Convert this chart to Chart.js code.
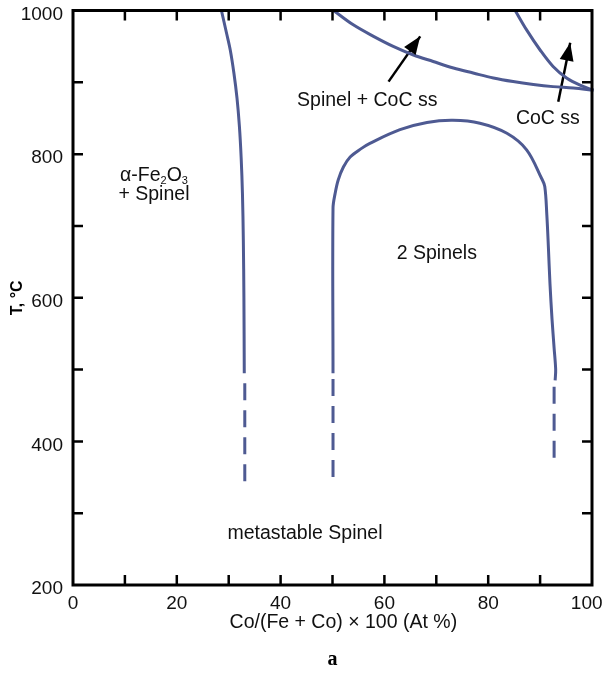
<!DOCTYPE html>
<html><head><meta charset="utf-8">
<script src="https://cdn.jsdelivr.net/npm/chart.js@4.4.0/dist/chart.umd.min.js"></script>
<style>html,body{margin:0;padding:0;background:#fff}#wrap{width:603px;height:674px;position:relative}</style>
</head><body><div id="wrap"><canvas id="c"></canvas></div>
<script>
// ---- data (composition Co/(Fe+Co)*100 vs temperature °C) ----
const xTickLabels = [0, 20, 40, 60, 80, 100];
const yTickLabels = [200, 400, 600, 800, 1000];

const leftSolvusX = [28.6, 29.6, 30.3, 31.0, 31.6, 32.05, 32.4, 32.65, 32.82, 32.93, 33.0];
const leftSolvusT = [1000, 968, 945, 913, 878, 840, 795, 745, 680, 600, 495];
const leftSolvusDashX = [33.1, 33.1];
const leftSolvusDashT = [481, 343];

const domeX = [50.1, 50.1, 50.5, 51.1, 52.1, 53.4, 55.6, 57.2, 63.0, 68.2, 73.2, 78.4, 83.6, 87.4, 90.3, 90.9, 91.3, 91.6, 91.9, 92.3, 92.7, 93.0, 92.9];
const domeT = [495, 725, 745, 764, 782, 796, 808, 815, 834, 844, 847, 843, 829, 806, 766, 755, 715, 670, 620, 570, 530, 500, 485];
const domeLeftDashX = [50.1, 50.1];
const domeLeftDashT = [487, 346];
const domeRightDashX = [92.7, 92.7];
const domeRightDashT = [476, 374];

const spinelCocX = [50.2, 54.0, 57.9, 61.7, 65.6, 69.4, 73.3, 77.1, 81.0, 84.8, 88.7, 92.5, 96.4, 100.3];
const spinelCocT = [1000, 980, 964, 950, 938, 929, 920, 913, 906, 901, 897, 894, 892, 889];
const cocX = [85.2, 87.4, 90.0, 92.5, 95.1, 97.7, 100.3];
const cocT = [1000, 973, 945, 922, 906, 896, 889];

const arrowTailX = [60.8, 93.5];
const arrowTailT = [901, 873];
const arrowTipX = [66.9, 95.8];
const arrowTipT = [964, 955];

const regionLabels = ['Spinel + CoC ss', 'CoC ss', '+ Spinel', '2 Spinels', 'metastable Spinel'];
const regionLabelX = [56.7, 91.5, 15.6, 70.1, 44.7];
const regionLabelT = [875, 850, 743, 661, 272];
const fe2o3LabelX = 15.6, fe2o3LabelT = 770;

// ---- build ----
const LINE = '#4e5a92';
const FONT = "'Liberation Sans', Arial, sans-serif";
const pts = (xs, ts) => xs.map((x, i) => ({x: x, y: ts[i]}));
const curve = (xs, ts, dash) => ({
  data: pts(xs, ts), showLine: true, borderColor: LINE, borderWidth: 3,
  pointRadius: 0, tension: dash ? 0 : 0.35, borderDash: dash ? [17, 10] : [],
  borderCapStyle: 'butt', fill: false, clip: false
});
const datasets = [
  curve(leftSolvusX, leftSolvusT, false),
  curve(leftSolvusDashX, leftSolvusDashT, true),
  curve(domeX, domeT, false),
  curve(domeLeftDashX, domeLeftDashT, true),
  curve(domeRightDashX, domeRightDashT, true),
  curve(spinelCocX, spinelCocT, false),
  curve(cocX, cocT, false)
];
arrowTailX.forEach((x, i) => {
  datasets.push({data: [{x: x, y: arrowTailT[i]}, {x: arrowTipX[i], y: arrowTipT[i]}],
    showLine: true, borderColor: '#000', borderWidth: 2.5, pointRadius: 0, tension: 0});
});

const decor = {
  id: 'decor',
  afterDatasetsDraw(chart) {
    const {ctx, chartArea: a, scales: {x, y}} = chart;
    ctx.save();
    // arrow heads
    ctx.fillStyle = '#000';
    arrowTailX.forEach((tx, i) => {
      const x0 = x.getPixelForValue(tx), y0 = y.getPixelForValue(arrowTailT[i]);
      const x1 = x.getPixelForValue(arrowTipX[i]), y1 = y.getPixelForValue(arrowTipT[i]);
      const ang = Math.atan2(y1 - y0, x1 - x0), L = 18, W = 7;
      ctx.beginPath();
      ctx.moveTo(x1, y1);
      ctx.lineTo(x1 - L * Math.cos(ang) + W * Math.sin(ang), y1 - L * Math.sin(ang) - W * Math.cos(ang));
      ctx.lineTo(x1 - L * Math.cos(ang) - W * Math.sin(ang), y1 - L * Math.sin(ang) + W * Math.cos(ang));
      ctx.closePath(); ctx.fill();
    });
    // frame
    ctx.strokeStyle = '#000'; ctx.lineWidth = 3;
    ctx.strokeRect(a.left, a.top, a.right - a.left, a.bottom - a.top);
    // inward ticks
    ctx.lineWidth = 2.5; const TL = 10;
    ctx.beginPath();
    x.ticks.forEach(t => {
      const px = x.getPixelForValue(t.value);
      if (px <= a.left + 1 || px >= a.right - 1) return;
      ctx.moveTo(px, a.bottom); ctx.lineTo(px, a.bottom - TL);
      ctx.moveTo(px, a.top); ctx.lineTo(px, a.top + TL);
    });
    y.ticks.forEach(t => {
      const py = y.getPixelForValue(t.value);
      if (py <= a.top + 1 || py >= a.bottom - 1) return;
      ctx.moveTo(a.left, py); ctx.lineTo(a.left + TL, py);
      ctx.moveTo(a.right, py); ctx.lineTo(a.right - TL, py);
    });
    ctx.stroke();
    // region labels
    ctx.fillStyle = '#111'; ctx.textAlign = 'center'; ctx.textBaseline = 'middle';
    ctx.font = '19.5px ' + FONT;
    regionLabels.forEach((s, i) => {
      ctx.fillText(s, x.getPixelForValue(regionLabelX[i]), y.getPixelForValue(regionLabelT[i]));
    });
    // alpha-Fe2O3 with subscripts
    const parts = [['α-Fe', false], ['2', true], ['O', false], ['3', true]];
    const big = '19.5px ' + FONT, small = '11px ' + FONT;
    let w = 0;
    parts.forEach(p => { ctx.font = p[1] ? small : big; w += ctx.measureText(p[0]).width; });
    let cx = x.getPixelForValue(fe2o3LabelX) - w / 2;
    const cy = y.getPixelForValue(fe2o3LabelT);
    ctx.textAlign = 'left';
    parts.forEach(p => {
      ctx.font = p[1] ? small : big;
      ctx.fillText(p[0], cx, p[1] ? cy + 5 : cy);
      cx += ctx.measureText(p[0]).width;
    });
    // panel letter
    ctx.textAlign = 'center';
    ctx.font = "bold 20px 'Liberation Serif', 'Times New Roman', serif";
    ctx.fillStyle = '#000';
    ctx.fillText('a', (a.left + a.right) / 2, 660);
    ctx.restore();
  }
};

new Chart(document.getElementById('c'), {
  type: 'scatter',
  data: {datasets: datasets},
  options: {
    responsive: true, maintainAspectRatio: false, animation: false,
    layout: {padding: {top: 10.5, right: 11, left: 0, bottom: 0}},
    plugins: {legend: {display: false}, tooltip: {enabled: false}},
    scales: {
      x: {
        type: 'linear', min: 0, max: 100,
        grid: {display: false, drawTicks: false}, border: {display: false},
        ticks: {stepSize: 10, padding: 7, color: '#111', font: {family: FONT, size: 19},
          maxRotation: 0, autoSkip: false,
          callback: v => xTickLabels.includes(v) ? (v === 100 ? '100  ' : String(v)) : ''},
        title: {display: true, text: '    Co/(Fe + Co) × 100 (At %)', color: '#111',
          font: {family: FONT, size: 19.5}, padding: {top: 39.5, bottom: 39.5}},
        afterFit: s => { s.height = 89; s.paddingLeft = 0; s.paddingRight = 0; }
      },
      y: {
        type: 'linear', min: 200, max: 1000,
        grid: {display: false, drawTicks: false}, border: {display: false},
        ticks: {stepSize: 100, padding: 10, labelOffset: 4, color: '#111', font: {family: FONT, size: 19},
          autoSkip: false,
          callback: v => yTickLabels.includes(v) ? String(v) : ''},
        title: {display: true, text: 'T, °C', color: '#000',
          font: {family: FONT, size: 16, weight: 'bold'}, padding: {top: 8, bottom: 8}},
        afterFit: s => { s.width = 73; s.paddingTop = 0; s.paddingBottom = 0; }
      }
    }
  },
  plugins: [decor]
});
</script></body></html>
